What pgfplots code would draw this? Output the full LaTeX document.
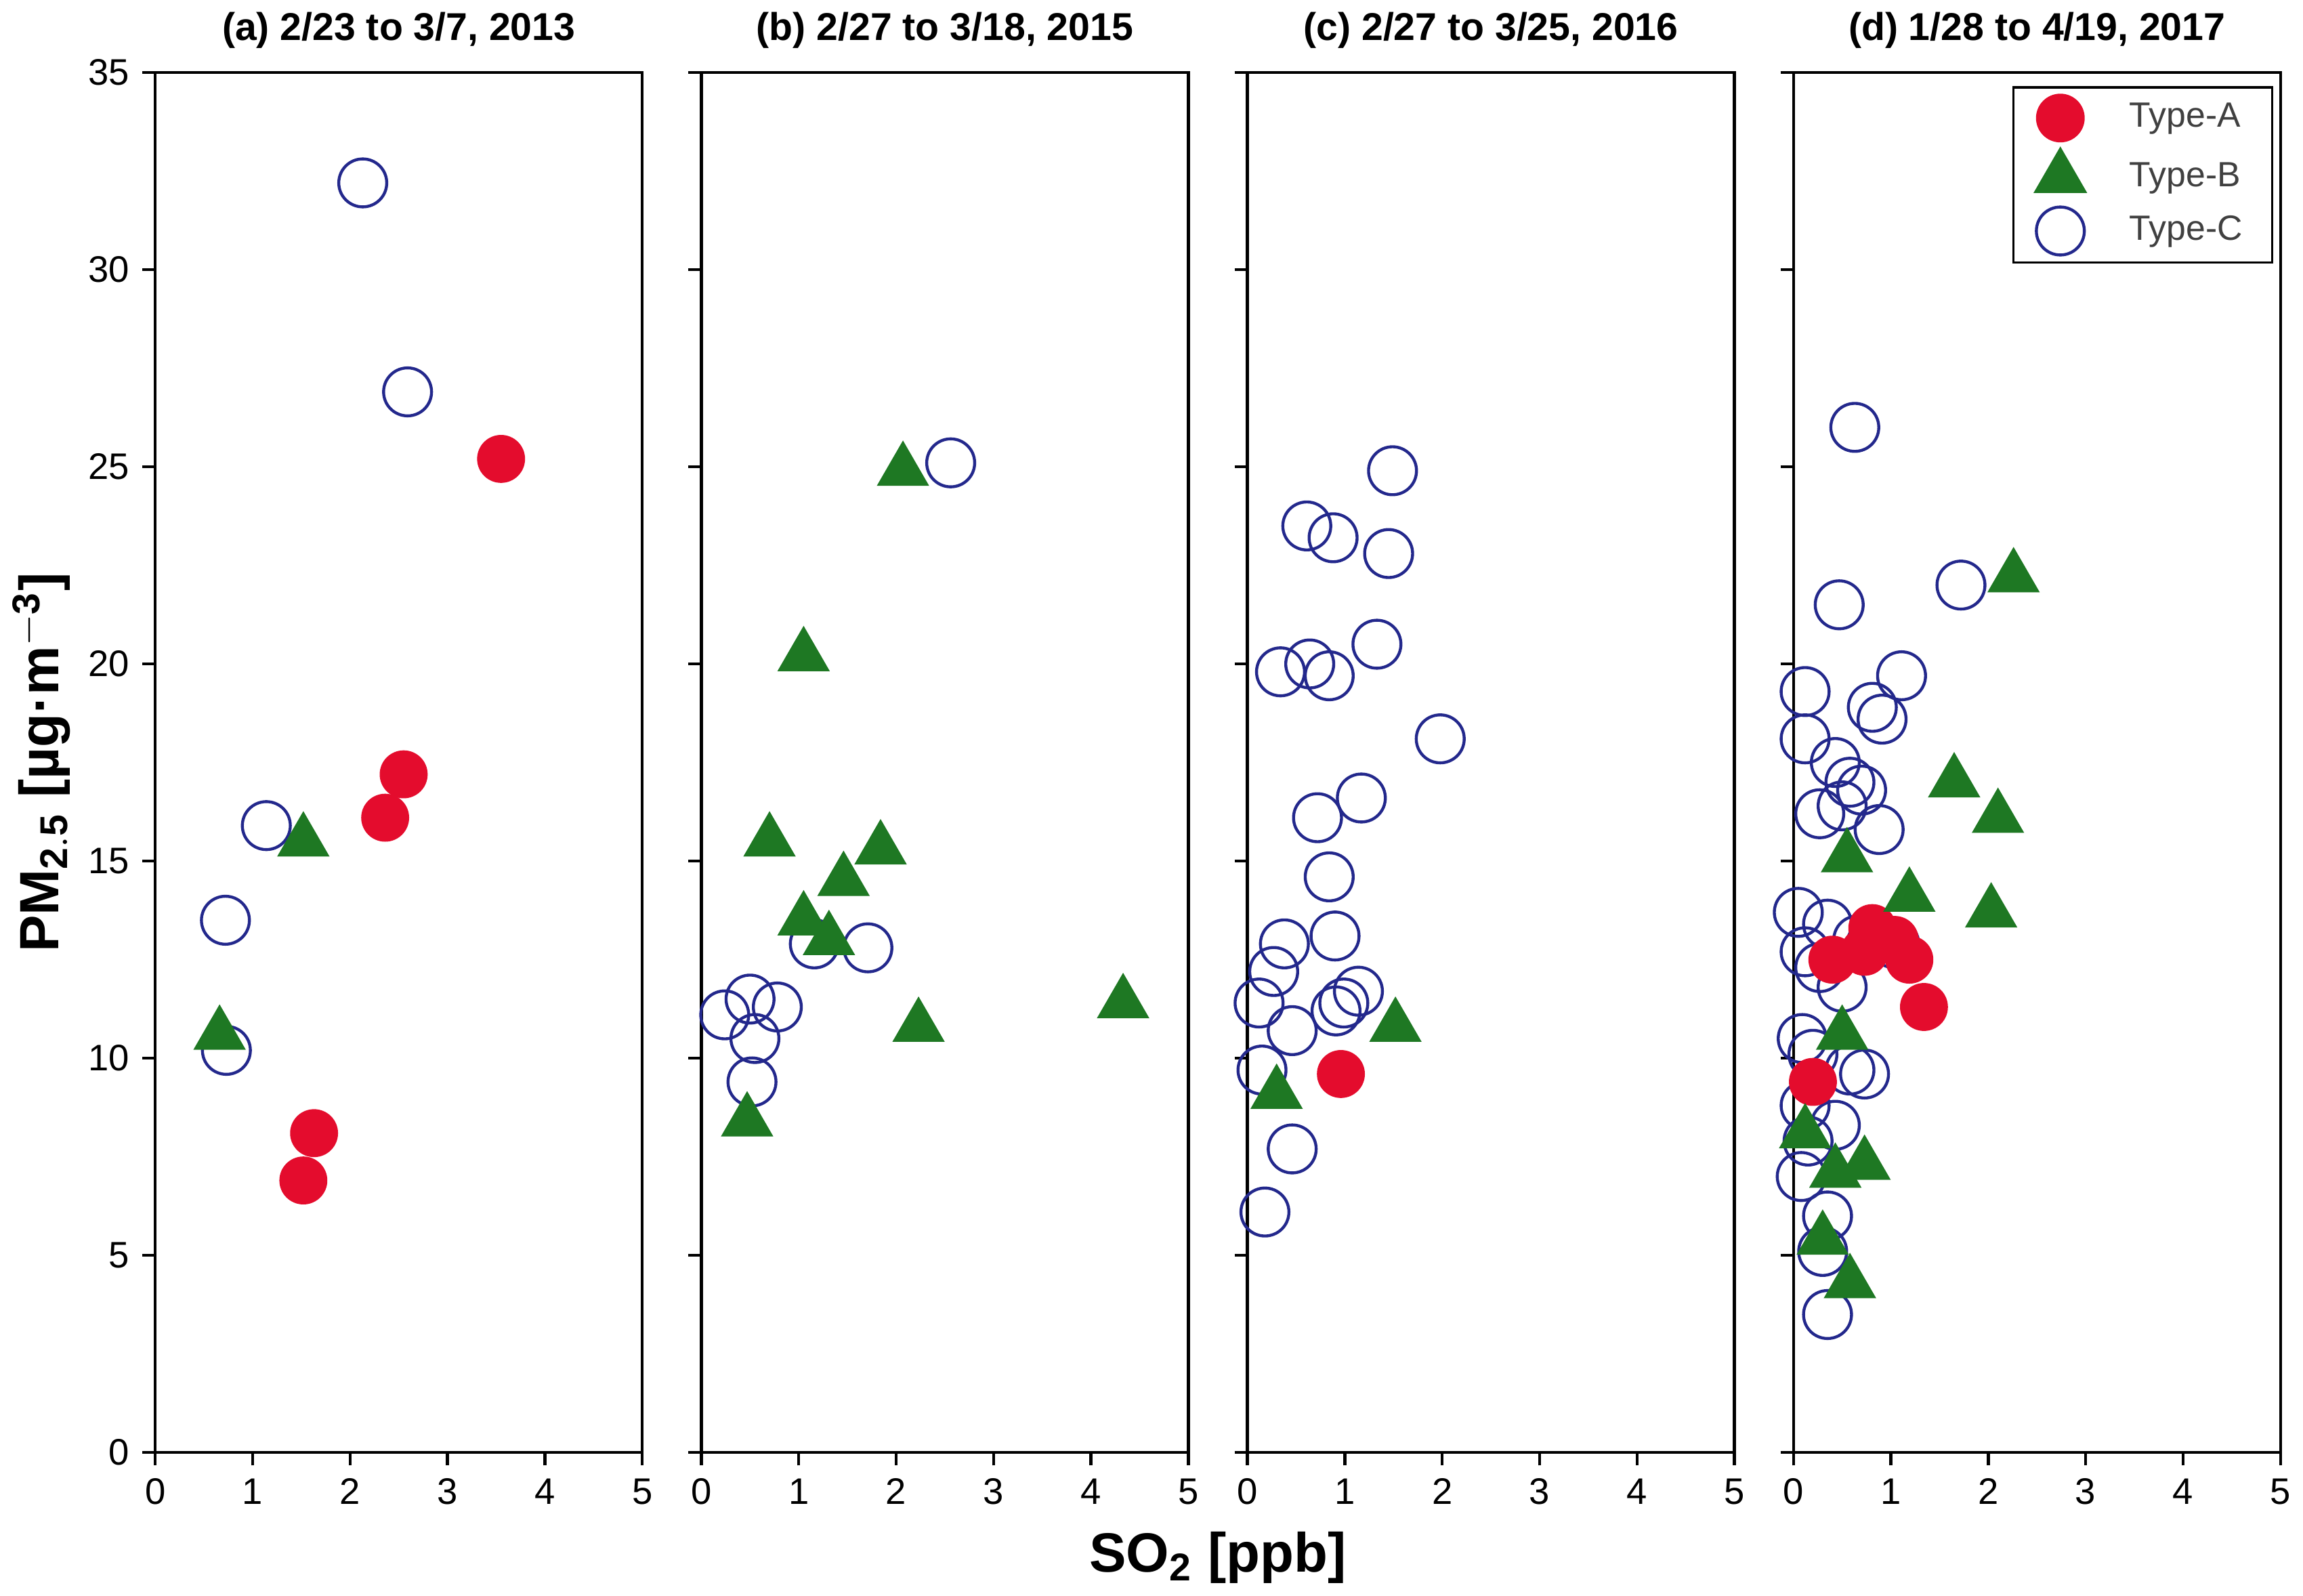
\documentclass[border=0pt]{standalone}
\usepackage{fontspec}
\setmainfont{Liberation Sans}
\usepackage{pgfplots}
\pgfplotsset{compat=1.18}
\usepgfplotslibrary{groupplots}
\definecolor{cA}{RGB}{228,12,45}
\definecolor{cB}{RGB}{30,120,35}
\definecolor{cC}{RGB}{35,40,140}
\begin{document}
\begin{tikzpicture}
\pgfplotsset{
 A/.style={only marks, mark=*, mark size=6.3pt, color=cA, mark options={fill=cA, draw=cA}},
 B/.style={only marks, mark=triangle*, mark size=7.8pt, color=cB, mark options={fill=cB, draw=cB}},
 C/.style={only marks, mark=o, mark size=6.5pt, color=cC, mark options={draw=cC, line width=0.8pt, fill=none}},
}
\begin{groupplot}[group style={group size=4 by 1, horizontal sep=16pt, y descriptions at=edge left},
 width=132pt, height=374pt, scale only axis,
 xmin=0, xmax=5, ymin=0, ymax=35, xtick={0,...,5}, ytick={0,5,...,35},
 tick align=outside, tick pos=left, major tick length=3.5pt,
 axis line style={line width=0.8pt}, every tick/.style={line width=0.8pt, black},
 tick label style={font=\fontsize{10}{12}\selectfont},
 /pgf/number format/assume math mode=true,
 title style={font=\bfseries\fontsize{10.5}{12}\selectfont, yshift=-3pt},
 clip=false]
\nextgroupplot[title={(a) 2/23 to 3/7, 2013},
 ylabel={\bfseries PM$_{\mathbf{2.5}}$ [µg·m$^{\mathbf{-3}}$]}, ylabel style={font=\fontsize{15}{18}\selectfont, yshift=-2pt}]
\addplot[C] coordinates {(2.13,32.2)(2.59,26.9)(1.14,15.9)(0.72,13.5)(0.73,10.2)};
\addplot[A] coordinates {(3.55,25.2)(2.55,17.2)(2.36,16.1)(1.63,8.1)(1.52,6.9)};
\addplot[B] coordinates {(1.52,15.5)(0.66,10.6)};
\nextgroupplot[title={(b) 2/27 to 3/18, 2015}]
\addplot[C] coordinates {(2.56,25.1)(1.16,12.9)(1.71,12.8)(0.50,11.5)(0.78,11.3)(0.24,11.1)(0.55,10.5)(0.52,9.4)};
\addplot[B] coordinates {(2.07,24.9)(1.05,20.2)(0.70,15.5)(1.84,15.3)(1.46,14.5)(1.05,13.5)(1.31,13.0)(2.23,10.8)(4.33,11.4)(0.47,8.4)};
\nextgroupplot[title={(c) 2/27 to 3/25, 2016}]
\addplot[C] coordinates {(1.49,24.9)(0.61,23.5)(0.88,23.2)(1.45,22.8)(1.33,20.5)(0.34,19.8)(0.64,20.0)(0.84,19.7)(1.98,18.1)(1.17,16.6)(0.72,16.1)(0.84,14.6)(0.90,13.1)(0.38,12.9)(0.27,12.2)(0.12,11.4)(1.14,11.7)(0.46,10.7)(0.99,11.4)(0.91,11.2)(0.15,9.7)(0.46,7.7)(0.18,6.1)};
\addplot[A] coordinates {(0.96,9.6)};
\addplot[B] coordinates {(0.30,9.1)(1.52,10.8)};
\nextgroupplot[title={(d) 1/28 to 4/19, 2017},
 legend style={at={(0.985,0.99)}, anchor=north east, draw=black, line width=0.6pt, font=\fontsize{9.5}{14}\selectfont\color{black!75}, row sep=2pt, inner xsep=6pt},
 legend cell align=left, legend image code/.code={\draw[#1] plot coordinates {(0.3cm,0cm)};}]
\addplot[C, forget plot] coordinates {(0.63,26.0)(0.47,21.5)(1.72,22.0)(1.11,19.7)(0.12,19.3)(0.81,18.9)(0.91,18.6)(0.12,18.1)(0.43,17.5)(0.58,17.0)(0.70,16.8)(0.27,16.2)(0.50,16.4)(0.88,15.8)(0.05,13.7)(0.35,13.4)(0.12,12.7)(0.66,13.0)(0.27,12.3)(0.50,11.8)(1.04,12.9)(0.09,10.5)(0.20,10.1)(0.58,9.7)(0.12,8.8)(0.15,7.9)(0.08,7.0)(0.35,6.0)(0.30,5.1)(0.35,3.5)(0.43,8.3)(0.73,9.6)};
\addplot[A] coordinates {(0.81,13.3)(1.04,13.0)(1.34,11.3)(0.40,12.5)(0.20,9.4)(0.73,12.7)(1.19,12.5)};
\addlegendentry{\hspace{10pt}Type-A}
\addplot[B] coordinates {(2.26,22.2)(1.65,17.0)(2.10,16.1)(2.03,13.7)(1.19,14.1)(0.55,15.1)(0.50,10.6)(0.73,7.3)(0.43,7.1)(0.58,4.3)(0.30,5.4)(0.12,8.1)};
\addlegendentry{\hspace{10pt}Type-B}
\addlegendimage{C}
\addlegendentry{\hspace{10pt}Type-C}
\end{groupplot}
\node[font=\bfseries\fontsize{15}{18}\selectfont, anchor=north] at ($(group c2r1.south east)!0.5!(group c3r1.south west)+(0,-18pt)$) {SO$_{\mathbf{2}}$ [ppb]};
\end{tikzpicture}
\end{document}
